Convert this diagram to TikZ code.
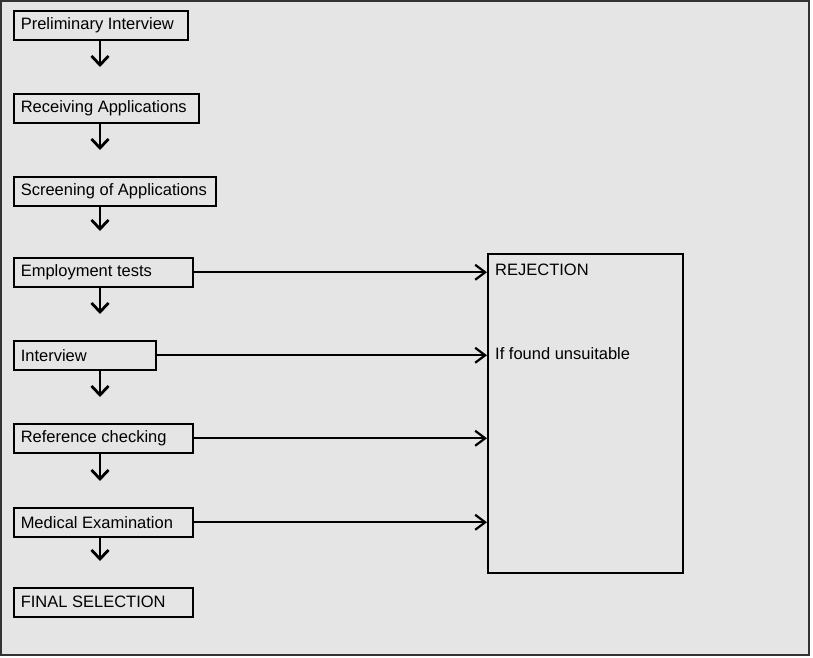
\documentclass[tikz,border=0pt]{standalone}
\usepackage{fontspec}
\setmainfont{Liberation Sans}
\usetikzlibrary{arrows.meta,positioning}

\tikzset{
  stage/.style={draw=black,line width=1.5pt,anchor=north west,minimum height=29pt,
    inner xsep=7pt,inner ysep=0pt,align=flush left},
  down/.style={line width=2.8pt,-{Straight Barb[length=9pt,width=17pt]}},
  reject/.style={line width=2.2pt,-{Straight Barb[length=10pt,width=15pt]}},
  label/.style={anchor=west,inner sep=0pt}
}

\begin{document}
\begin{tikzpicture}[x=1pt,y=-1pt,font=\fontsize{16.5}{20}\selectfont]
\useasboundingbox (0,0) rectangle (813,657);
\draw[fill=black!10,draw=black!80,line width=2pt] (1,1) rectangle (809,655);

% selection stages
\def\stages{1/10/174/{Preliminary Interview},2/93/185/{Receiving Applications},
  3/176/202/{Screening of Applications},4/257/179/{Employment tests},
  5/340/142/{Interview},6/423/179/{Reference checking},
  7/507/179/{Medical Examination},8/587/179/{FINAL SELECTION}}
\foreach \i/\y/\w/\txt in \stages {
  \pgfmathsetmacro\tw{\w-14}
  \node[stage,text width=\tw pt] (s\i) at (13,\y) {\hyphenpenalty=10000\txt};
}

% rejection box
\node[draw=black,line width=1.5pt,anchor=north west,minimum width=195pt,
  minimum height=319pt] (rej) at (487,253) {};
\node[label] (rejtitle) at (495,270) {REJECTION};
\node[label] (rejnote) at (495,354) {If found unsuitable};

\coordinate (ax) at (100,0);
\foreach \i [count=\j from 2] in {1,...,7}
  \draw[down,shorten >=26pt] (s\i.south -| ax) -- (s\j.north -| ax);

\foreach \i in {4,...,7}
  \draw[reject] (s\i.east) -- (s\i.east -| rej.west);

\end{tikzpicture}
\end{document}
